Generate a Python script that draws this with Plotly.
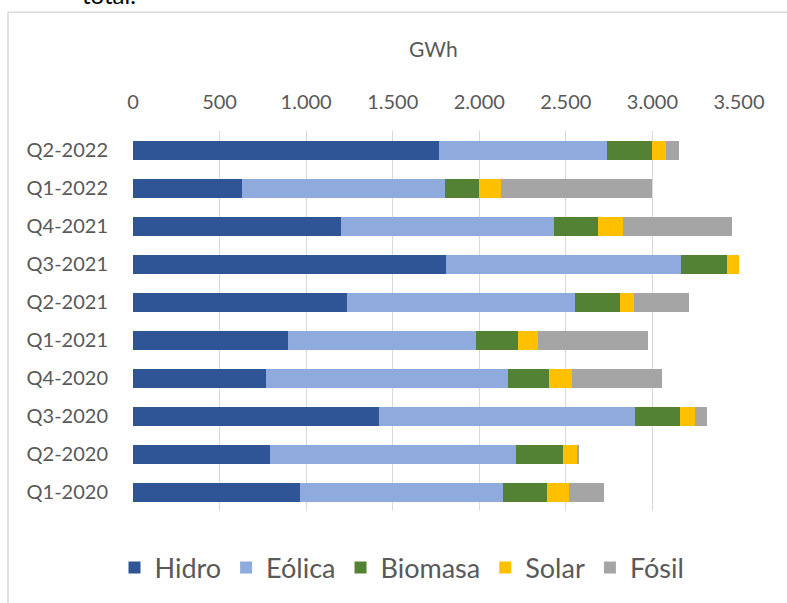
import plotly.graph_objects as go

categories = ["Q1-2020", "Q2-2020", "Q3-2020", "Q4-2020", "Q1-2021",
              "Q2-2021", "Q3-2021", "Q4-2021", "Q1-2022", "Q2-2022"]
hidro   = [962, 789, 1421, 766, 898, 1236, 1810, 1203, 632, 1767]
eolica  = [1175, 1422, 1480, 1402, 1082, 1315, 1357, 1231, 1170, 969]
biomasa = [254, 271, 259, 235, 241, 259, 264, 251, 198, 259]
solar   = [127, 84, 84, 133, 119, 83, 87, 147, 124, 86]
fosil   = [200, 10, 71, 520, 635, 318, 0, 627, 871, 71]

series = [("Hidro", hidro, "#2F5597"), ("Eólica", eolica, "#8FAADC"),
          ("Biomasa", biomasa, "#548235"), ("Solar", solar, "#FFC000"),
          ("Fósil", fosil, "#A5A5A5")]

W, H = 787, 603
L, T = 133, 131
R, B = W - 739, H - 512
pw, ph = W - L - R, H - T - B

fig = go.Figure()
for name, vals, col in series:
    fig.add_trace(go.Bar(y=categories, x=vals, name=name, orientation="h",
                         marker=dict(color=col, line=dict(width=0))))

def px_x(x):
    return (x - L) / pw

def px_y(y):
    return (H - B - y) / ph

fig.update_layout(
    width=W, height=H, barmode="stack", bargap=0.5,
    margin=dict(l=L, r=R, t=T, b=B),
    paper_bgcolor="white", plot_bgcolor="white",
    separators=",.",
    font=dict(family="Lato", color="#595959", size=20),
    xaxis=dict(side="top", range=[0, 3500], dtick=500, tickformat=",",
               showgrid=True, gridcolor="#D9D9D9", gridwidth=1.3,
               zeroline=False, showline=False, ticks="",
               tickfont=dict(size=20, color="#595959"), ticklabelstandoff=17),
    yaxis=dict(showgrid=False, zeroline=False, showline=False, ticks="",
               tickfont=dict(size=20, color="#595959"), ticklabelstandoff=24),
    legend=dict(orientation="h", x=px_x(402), xanchor="center", y=px_y(568),
                yanchor="middle", font=dict(size=27, color="#595959"),
                traceorder="normal", itemwidth=30),
    showlegend=True,
)

fig.add_annotation(text="GWh", xref="paper", yref="paper", x=px_x(433), y=px_y(48),
                   showarrow=False, font=dict(size=21, color="#595959"),
                   xanchor="center", yanchor="middle")
fig.add_annotation(text="total.", xref="paper", yref="paper", x=px_x(80), y=px_y(-6),
                   showarrow=False, font=dict(size=24, color="#000000"),
                   xanchor="left", yanchor="middle")
# chart-area border (top and left edges visible in the reference)
fig.add_shape(type="line", xref="paper", yref="paper",
              x0=px_x(8), x1=px_x(800), y0=px_y(12), y1=px_y(12),
              line=dict(color="#D9D9D9", width=1.5), layer="below")
fig.add_shape(type="line", xref="paper", yref="paper",
              x0=px_x(8), x1=px_x(8), y0=px_y(12), y1=px_y(620),
              line=dict(color="#D9D9D9", width=1.5), layer="below")

fig.write_html("out.html", config={"displayModeBar": False},
               post_script="document.body.style.margin='0';document.body.style.overflow='hidden';")
